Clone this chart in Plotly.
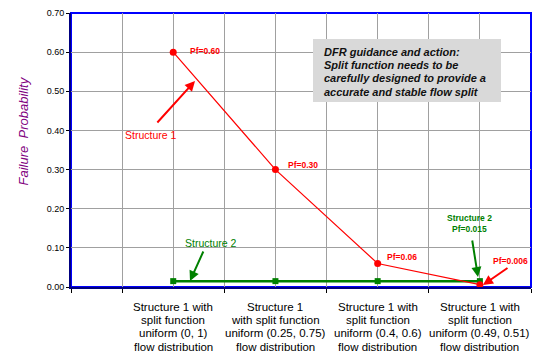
import plotly.graph_objects as go

categories = [
    "Structure 1 with<br>split function<br>uniform (0, 1)<br>flow distribution",
    "Structure 1<br>with split function<br>uniform (0.25, 0.75)<br>flow distribution",
    "Structure 1 with<br>split function<br>uniform (0.4, 0.6)<br>flow distribution",
    "Structure 1 with<br>split function<br>uniform (0.49, 0.51)<br>flow distribution",
]
structure1 = [0.60, 0.30, 0.06, 0.006]
structure2 = [0.015, 0.015, 0.015, 0.015]
y_ticks = [0.0, 0.1, 0.2, 0.3, 0.4, 0.5, 0.6, 0.7]
pf_labels = ["Pf=0.60", "Pf=0.30", "Pf=0.06"]
guidance_lines = ["DFR guidance and action:", "Split function needs to be",
                  "carefully designed to provide a", "accurate and stable flow split"]

xpos = [i + 1 for i in range(len(categories))]
FONT = "Liberation Sans, Arial, sans-serif"
RED = "#ff0000"
GREEN = "#008000"

W, H = 537, 356
ML, MR, MT, MB = 71, 6, 13, 69
PW, PH = W - ML - MR, H - MT - MB
XR, YR = (0, 4.5), (0, 0.7)


def px2x(px):
    return XR[0] + (px - ML) / PW * (XR[1] - XR[0])


def py2y(py):
    return YR[0] + (MT + PH - py) / PH * (YR[1] - YR[0])


fig = go.Figure()
fig.add_trace(go.Scatter(x=xpos, y=structure2, mode="lines+markers",
                         line=dict(color=GREEN, width=2.5),
                         marker=dict(symbol="square", size=6, color=GREEN),
                         showlegend=False))
fig.add_trace(go.Scatter(x=xpos, y=structure1, mode="lines+markers",
                         line=dict(color=RED, width=1.2),
                         marker=dict(symbol="circle", size=7, color=RED),
                         showlegend=False))

ann = []
# Pf labels for structure 1
pf_pos = [(188, 51), (286, 165), (385, 257)]
for i, lab in enumerate(pf_labels):
    ann.append(dict(x=px2x(pf_pos[i][0]), y=py2y(pf_pos[i][1]),
                    text="<b>" + lab + "</b>", showarrow=False, xanchor="left",
                    font=dict(family=FONT, size=8.5, color=RED)))


def arrow(head, tail, color):
    return dict(x=px2x(head[0]), y=py2y(head[1]), ax=px2x(tail[0]), ay=py2y(tail[1]),
                axref="x", ayref="y", text="", showarrow=True, arrowhead=2,
                arrowsize=1, arrowwidth=2, arrowcolor=color, standoff=0, startstandoff=0)


ann.append(arrow((195, 81), (156, 124), RED))
ann.append(dict(x=px2x(151), y=py2y(135), text="Structure 1", showarrow=False,
                font=dict(family=FONT, size=10.5, color=RED)))
ann.append(arrow((190, 281), (204, 250), GREEN))
ann.append(dict(x=px2x(211), y=py2y(243), text="Structure 2", showarrow=False,
                font=dict(family=FONT, size=10.5, color=GREEN)))
ann.append(arrow((483, 285), (509, 267), RED))
ann.append(dict(x=px2x(510), y=py2y(261), text="<b>Pf=0.006</b>", showarrow=False,
                font=dict(family=FONT, size=8.5, color=RED)))
ann.append(arrow((478, 277), (472, 239), GREEN))
ann.append(dict(x=px2x(469), y=py2y(223), text="<b>Structure 2<br>Pf=0.015</b>",
                showarrow=False, font=dict(family=FONT, size=8.5, color=GREEN)))

# Guidance text lines
for k, line in enumerate(guidance_lines):
    ann.append(dict(x=px2x(322), y=py2y(51.7 + 13.3 * k), xanchor="left", yanchor="middle",
                    text="<b><i>" + line + "</i></b>", showarrow=False,
                    font=dict(family=FONT, size=11, color="#111111")))

# X category labels, each line placed separately
for i, lab in enumerate(categories):
    for k, line in enumerate(lab.split("<br>")):
        ann.append(dict(x=xpos[i], y=0, xref="x", yref="paper", yanchor="middle",
                        yshift=-(19.7 + 13.33 * k), text=line, showarrow=False,
                        font=dict(family=FONT, size=11.5, color="black")))

# Y title
ann.append(dict(x=(22.5 - ML) / PW, y=(H - MB - 131) / PH,
                xref="paper", yref="paper", xanchor="center", yanchor="middle",
                text="<i>Failure  Probability</i>",
                showarrow=False, textangle=-90,
                font=dict(family=FONT, size=13, color="#800080")))

fig.update_layout(
    width=W, height=H,
    margin=dict(l=ML, r=MR, t=MT, b=MB),
    paper_bgcolor="white", plot_bgcolor="white",
    annotations=ann,
    shapes=[
        dict(type="rect", xref="paper", yref="paper", x0=0, x1=1, y0=0, y1=1,
             line=dict(color="#0000ff", width=2), layer="between"),
        dict(type="rect", xref="x", yref="y", x0=px2x(313), x1=px2x(501),
             y0=py2y(102), y1=py2y(39), fillcolor="#d9d9d9",
             line=dict(width=0), layer="between"),
    ],
    xaxis=dict(range=list(XR), tickvals=xpos, ticktext=categories, ticks="",
               showticklabels=False,
               showgrid=True, gridcolor="#a0a0a0", gridwidth=1,
               showline=True, linecolor="#000080", linewidth=2,
               minor=dict(tickvals=[0, 0.5, 1.5, 2.5, 3.5, 4.5], ticks="outside",
                          ticklen=4, tickcolor="black", showgrid=True,
                          gridcolor="#a0a0a0", gridwidth=1),
               zeroline=False),
    yaxis=dict(range=list(YR), tickvals=y_ticks, tickformat=".2f",
               ticks="outside", ticklen=3, tickcolor="black",
               showgrid=True, gridcolor="#a0a0a0", gridwidth=1,
               showline=True, linecolor="#000080", linewidth=2,
               tickfont=dict(family=FONT, size=9, color="black"),
               tickprefix="<b>", ticksuffix="</b>",
               zeroline=False),
)

fig.write_html("out.html", config={"displayModeBar": False},
               post_script="document.body.style.margin='0';")
